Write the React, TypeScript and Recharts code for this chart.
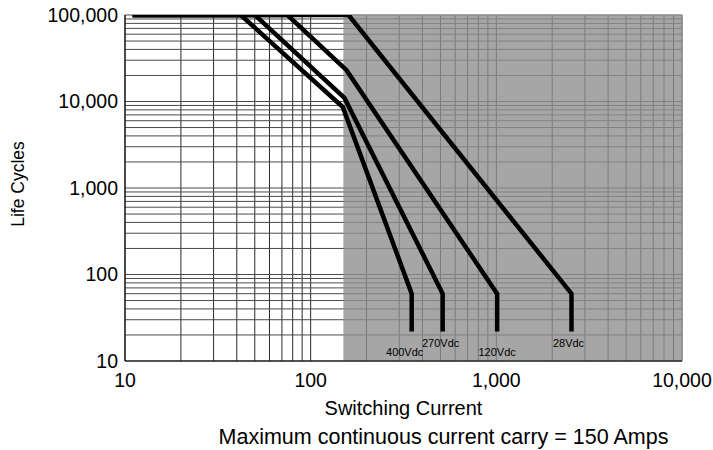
import { CartesianGrid, Label, Line, LineChart, ReferenceArea, XAxis, YAxis } from "recharts";

// log paper lines: 1..9 in every decade
const currentTicks = [
  10, 20, 30, 40, 50, 60, 70, 80, 90,
  100, 200, 300, 400, 500, 600, 700, 800, 900,
  1000, 2000, 3000, 4000, 5000, 6000, 7000, 8000, 9000,
  10000
];
const cycleTicks = [
  10, 20, 30, 40, 50, 60, 70, 80, 90,
  100, 200, 300, 400, 500, 600, 700, 800, 900,
  1000, 2000, 3000, 4000, 5000, 6000, 7000, 8000, 9000,
  10000, 20000, 30000, 40000, 50000, 60000, 70000, 80000, 90000,
  100000
];
const currentLabels = [10, 100, 1000, 10000];
const cycleLabels = [10, 100, 1000, 10000, 100000];

const maxContinuousCurrent = 150;

const current400 = [11, 42, 149, 350, 350];
const cycles400 = [100000, 100000, 8600, 60, 22];
const current270 = [11, 50, 152, 514, 514];
const cycles270 = [100000, 100000, 11000, 60, 22];
const current120 = [11, 75, 156, 1010, 1010];
const cycles120 = [100000, 100000, 23000, 60, 22];
const current28 = [11, 160, 2540, 2540];
const cycles28 = [100000, 100000, 60, 22];

const seriesNames = ["400Vdc", "270Vdc", "120Vdc", "28Vdc"];

const series = [
  { name: seriesNames[0], current: current400, cycles: cycles400 },
  { name: seriesNames[1], current: current270, cycles: cycles270 },
  { name: seriesNames[2], current: current120, cycles: cycles120 },
  { name: seriesNames[3], current: current28, cycles: cycles28 }
].map((s) => ({
  name: s.name,
  data: s.current.map((x, i) => ({ x, y: s.cycles[i] }))
}));

// where each voltage tag sits relative to the end of its curve
const labelOffsets: Record<string, [number, number]> = {
  "400Vdc": [-7, 25],
  "270Vdc": [-2, 16],
  "120Vdc": [0, 25],
  "28Vdc": [-3, 16]
};

const font = "'Liberation Sans', Arial, Helvetica, sans-serif";

function formatNumber(value: number, shown: number[]) {
  return shown.includes(value) ? value.toLocaleString("en-US") : "";
}

export default function App() {
  return (
    <div style={{ width: 713, height: 450, background: "#fff" }}>
      <style>{`body { margin: 0; }`}</style>
      <LineChart width={713} height={450} margin={{ top: 15, right: 31, bottom: 0, left: 0 }}>
        <ReferenceArea
          x1={maxContinuousCurrent}
          x2={10000}
          y1={10}
          y2={100000}
          fill="#909090"
          fillOpacity={0.8}
          stroke="none"
        />
        <CartesianGrid horizontal={false} stroke="#2a2a2a" strokeWidth={1} />
        <CartesianGrid vertical={false} stroke="#4a4a4a" strokeWidth={1} />
        <XAxis
          dataKey="x"
          type="number"
          scale="log"
          domain={[10, 10000]}
          ticks={currentTicks}
          interval={0}
          allowDataOverflow
          height={89}
          tickLine={false}
          tickSize={0}
          tickMargin={12}
          axisLine={{ stroke: "#000" }}
          tickFormatter={(v: number) => formatNumber(v, currentLabels)}
          tick={{ fill: "#000", fontSize: 19.5, fontFamily: font }}
        >
          <Label
            content={(props: any) => {
              const vb = props.viewBox || { x: 125, y: 361, width: 557 };
              return (
                <g fontFamily={font} fill="#000">
                  <text x={vb.x + vb.width / 2} y={vb.y + 54} textAnchor="middle" fontSize={20}>
                    Switching Current
                  </text>
                  <text x={vb.x + vb.width / 2 + 40} y={vb.y + 83} textAnchor="middle" fontSize={21.5}>
                    Maximum continuous current carry = {maxContinuousCurrent} Amps
                  </text>
                </g>
              );
            }}
          />
        </XAxis>
        <YAxis
          dataKey="y"
          type="number"
          scale="log"
          domain={[10, 100000]}
          ticks={cycleTicks}
          interval={0}
          allowDataOverflow
          width={125}
          tickLine={false}
          tickSize={0}
          tickMargin={7}
          axisLine={{ stroke: "#000" }}
          tickFormatter={(v: number) => formatNumber(v, cycleLabels)}
          tick={{ fill: "#000", fontSize: 19.5, fontFamily: font }}
        >
          <Label
            content={(props: any) => {
              const vb = props.viewBox || { x: 0, y: 15, height: 346 };
              const cx = 17.5;
              const cy = vb.y + vb.height / 2 - 4;
              return (
                <text
                  x={cx}
                  y={cy}
                  transform={`rotate(-90, ${cx}, ${cy})`}
                  textAnchor="middle"
                  dominantBaseline="central"
                  fontSize={17.5}
                  fontFamily={font}
                  fill="#000"
                >
                  Life Cycles
                </text>
              );
            }}
          />
        </YAxis>
        {series.map((s) => (
          <Line
            key={s.name}
            data={s.data}
            dataKey="y"
            name={s.name}
            type="linear"
            stroke="#000"
            strokeWidth={4.5}
            dot={false}
            activeDot={false}
            isAnimationActive={false}
            label={(props: any) => {
              if (props.index !== s.data.length - 1) return <g key={`${s.name}-${props.index}`} />;
              const [dx, dy] = labelOffsets[s.name];
              return (
                <text
                  key={`${s.name}-tag`}
                  x={props.x + dx}
                  y={props.y + dy}
                  textAnchor="middle"
                  fontSize={11}
                  fontFamily={font}
                  fill="#000"
                >
                  {s.name}
                </text>
              );
            }}
          />
        ))}
      </LineChart>
    </div>
  );
}
